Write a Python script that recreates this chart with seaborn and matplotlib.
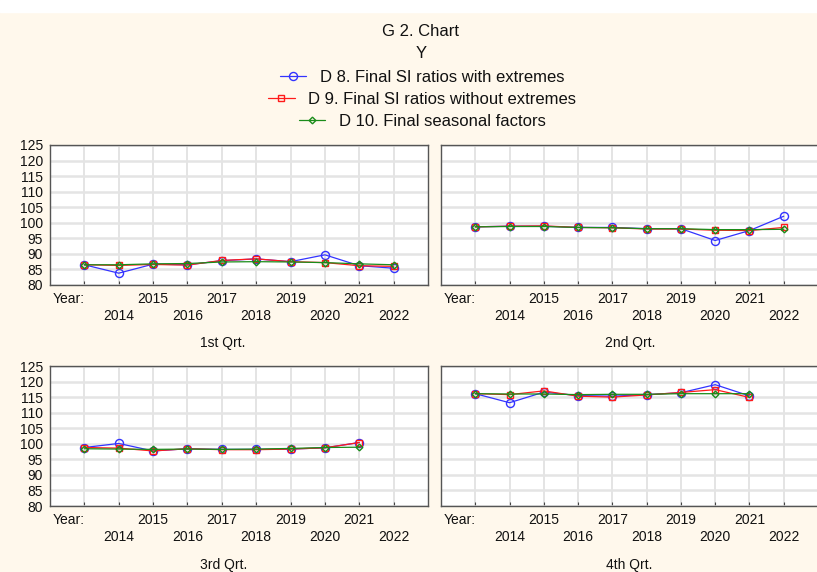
import numpy as np
import pandas as pd
import matplotlib
matplotlib.use("Agg")
import matplotlib.pyplot as plt
from matplotlib.lines import Line2D
import seaborn as sns

# ---- data -------------------------------------------------------------
years = [2013, 2014, 2015, 2016, 2017, 2018, 2019, 2020, 2021, 2022]
year_labels = ["Year:", "2014", "2015", "2016", "2017", "2018",
               "2019", "2020", "2021", "2022"]
quarters = ["1st Qrt.", "2nd Qrt.", "3rd Qrt.", "4th Qrt."]
series_names = ["D 8. Final SI ratios with extremes",
                "D 9. Final SI ratios without extremes",
                "D 10. Final seasonal factors"]
nan = np.nan

# D 8 – SI ratios with extremes
d8_q1 = [86.5, 83.8, 86.7, 86.5, 87.8, 88.4, 87.5, 89.7, 86.2, 85.4]
d8_q2 = [98.7, 98.9, 98.9, 98.5, 98.5, 98.1, 98.1, 94.3, 97.5, 102.1]
d8_q3 = [98.8, 100.1, 97.7, 98.4, 98.2, 98.2, 98.3, 98.7, 100.4, nan]
d8_q4 = [116.1, 113.2, 116.6, 115.5, 115.3, 115.8, 116.4, 119.0, 115.4, nan]

# D 9 – SI ratios without extremes
d9_q1 = [86.5, 86.3, 86.6, 86.4, 87.9, 88.4, 87.5, 87.2, 86.2, 86.0]
d9_q2 = [98.7, 98.9, 99.0, 98.5, 98.4, 98.0, 98.0, 97.6, 97.5, 98.5]
d9_q3 = [98.8, 98.6, 97.7, 98.4, 98.1, 98.1, 98.3, 98.7, 100.4, nan]
d9_q4 = [116.1, 115.8, 117.0, 115.3, 115.0, 115.7, 116.5, 117.4, 114.9, nan]

# D 10 – final seasonal factors
d10_q1 = [86.5, 86.5, 86.8, 86.9, 87.4, 87.5, 87.4, 87.2, 86.8, 86.5]
d10_q2 = [98.7, 98.8, 98.8, 98.5, 98.4, 98.1, 98.1, 97.8, 97.8, 97.9]
d10_q3 = [98.4, 98.3, 98.2, 98.3, 98.2, 98.3, 98.5, 98.8, 98.9, nan]
d10_q4 = [116.1, 116.0, 116.0, 115.8, 115.9, 115.9, 116.1, 116.1, 116.1, nan]

panels = [
    [d8_q1, d9_q1, d10_q1],
    [d8_q2, d9_q2, d10_q2],
    [d8_q3, d9_q3, d10_q3],
    [d8_q4, d9_q4, d10_q4],
]

# ---- styling -----------------------------------------------------------
sns.set_theme(style="white")
plt.rcParams["font.family"] = ["Liberation Sans", "DejaVu Sans"]

bg = "#FFF8EC"
styles = [
    dict(color="#3333FF", marker="o", markersize=5.8),
    dict(color="#FF1A1A", marker="s", markersize=5.0),
    dict(color="#1A8C1A", marker="D", markersize=3.4),
]

W, H = 817, 572
fig = plt.figure(figsize=(W / 100, H / 100), dpi=100, facecolor=bg)
# white strip across the top edge
fig.add_artist(plt.Rectangle((0, 1 - 12 / H), 1, 12 / H,
                             transform=fig.transFigure, color="white",
                             zorder=0))


def px_axes(left, right, top, bottom):
    return fig.add_axes([left / W, 1 - bottom / H,
                         (right - left) / W, (bottom - top) / H])


boxes = [(50, 428, 145, 285), (441, 818, 145, 285),
         (50, 428, 366, 506), (441, 818, 366, 506)]
label_pos = [(223, 343), (630, 343), (224, 565), (629, 565)]

for i, (box, data) in enumerate(zip(boxes, panels)):
    ax = px_axes(*box)
    ax.set_facecolor("white")
    for vals, name, st in zip(data, series_names, styles):
        df = pd.DataFrame({"year": years, "value": vals})
        sns.lineplot(data=df, x="year", y="value", ax=ax,
                     color=st["color"], marker=st["marker"],
                     markersize=st["markersize"], markerfacecolor="none",
                     markeredgecolor=st["color"], markeredgewidth=1.0,
                     linewidth=0.9, label=name, legend=False)
    ax.set_xlim(2012, 2023)
    ax.set_ylim(80, 125)
    ax.set_yticks(np.arange(80, 126, 5))
    if i % 2 == 0:
        ax.set_yticklabels([str(v) for v in range(80, 126, 5)])
    else:
        ax.set_yticklabels([])
    ax.set_xlabel("")
    ax.set_ylabel("")

    # staggered year labels: odd positions on major ticks, even on minor
    major_idx = list(range(0, len(years), 2))
    minor_idx = list(range(1, len(years), 2))
    ax.set_xticks([years[k] for k in major_idx])
    ax.set_xticklabels([year_labels[k] for k in major_idx])
    ax.set_xticks([years[k] for k in minor_idx], minor=True)
    ax.set_xticklabels([year_labels[k] for k in minor_idx], minor=True)
    ax.get_xticklabels()[0].set_ha("right")

    ax.tick_params(axis="x", which="major", direction="in", length=3,
                   width=0.8, color="#444444", pad=5.2, labelsize=10,
                   labelcolor="#111111", bottom=True)
    ax.tick_params(axis="x", which="minor", direction="in", length=3,
                   width=0.8, color="#444444", pad=17.5, labelsize=10,
                   labelcolor="#111111", bottom=True)
    ax.tick_params(axis="y", length=0, pad=5, labelsize=10,
                   labelcolor="#111111")

    ax.grid(True, which="both", axis="x", color="#DCDCDC", linewidth=1.1)
    ax.grid(True, which="major", axis="y", color="#E4E4E4", linewidth=1.8)
    ax.set_axisbelow(True)
    for sp in ax.spines.values():
        sp.set_visible(True)
        sp.set_color("#555555")
        sp.set_linewidth(1.0)

    fig.text(label_pos[i][0] / W, 1 - label_pos[i][1] / H, quarters[i],
             ha="center", va="center", fontsize=10, color="#111111")

# ---- header: title and centered legend rows --------------------------
fig.text(421 / W, 1 - 32 / H, "G 2. Chart", ha="center", va="center",
         fontsize=12, color="#111111")
fig.text(421 / W, 1 - 53 / H, "Y", ha="center", va="center",
         fontsize=12, color="#111111")

for k, (name, st) in enumerate(zip(series_names, styles)):
    handle = Line2D([], [], color=st["color"], marker=st["marker"],
                    markersize=st["markersize"], markerfacecolor="none",
                    markeredgecolor=st["color"], markeredgewidth=1.0,
                    linewidth=0.9)
    leg = fig.legend(handles=[handle], labels=[name], loc="center",
                     bbox_to_anchor=(422 / W, 1 - (77 + 22 * k) / H),
                     frameon=False, fontsize=12, handlelength=1.6,
                     handletextpad=0.8, borderpad=0, borderaxespad=0)
    for t in leg.get_texts():
        t.set_color("#111111")

fig.savefig("out.png", dpi=100, facecolor=bg)
